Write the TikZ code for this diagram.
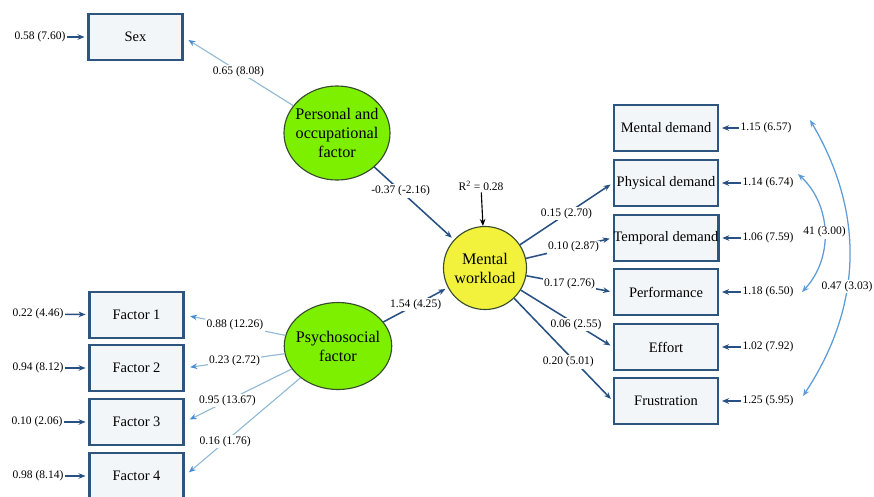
\documentclass[tikz,border=0pt]{standalone}
\usepackage{fontspec}
\setmainfont{Liberation Serif}
\usepackage{xcolor}
\usetikzlibrary{arrows.meta}
\usetikzlibrary{shapes.geometric}
\usetikzlibrary{positioning}

\definecolor{boxline}{RGB}{45,85,125}
\definecolor{boxfill}{RGB}{243,246,249}
\definecolor{dkblue}{RGB}{40,80,130}
\definecolor{ltblue}{RGB}{145,185,212}
\definecolor{tipblue}{RGB}{70,140,215}
\definecolor{covblue}{RGB}{95,155,215}
\definecolor{latgreen}{RGB}{125,240,0}
\definecolor{latyellow}{RGB}{242,242,60}
\definecolor{latline}{RGB}{55,75,45}

\tikzset{
  obs/.style={rectangle,draw=boxline,fill=boxfill,line width=1.6pt,inner sep=0pt,
    font=\fontsize{10.3}{12}\selectfont},
  lat/.style={ellipse,draw=latline,line width=0.8pt,inner xsep=-3pt,inner ysep=0pt,
    align=center,font=\fontsize{11.5}{13.5}\selectfont},
  lbl/.style={fill=white,inner sep=1pt,font=\fontsize{8.2}{9}\selectfont},
  errlbl/.style={inner sep=1pt,font=\fontsize{8.2}{9}\selectfont},
}

\begin{document}
\begin{tikzpicture}[x=0.025cm,y=-0.025cm]
        \useasboundingbox (0,0) rectangle (874,496);
        % observed variables
        \begin{scope}[every node/.style={obs,minimum width=2.35cm,minimum height=1.15cm}]
        \node (sex) at (135.5,37) {Sex};
        \node (f1) at (136.5,315) {Factor 1};
        \node (f2) at (136.5,368) {Factor 2};
        \node (f3) at (136.5,422) {Factor 3};
        \node (f4) at (136.5,476) {Factor 4};
        \end{scope}
        \begin{scope}[every node/.style={obs,minimum width=2.6cm,minimum height=1.15cm}]
        \node (md) at (666,128) {Mental demand};
        \node (pd) at (666,183) {Physical demand};
        \node (td) at (666,238) {Temporal demand};
        \node (pf) at (666,292) {Performance};
        \node (ef) at (666,347) {Effort};
        \node (fr) at (666,401) {Frustration};
        \end{scope}
        % latent variables
        \node[lat,fill=latgreen,minimum width=2.65cm,minimum height=2.35cm] (po) at (337,133)
          {Personal and\\occupational\\factor};
        \node[lat,fill=latgreen,minimum width=2.55cm,minimum height=2.175cm] (ps) at (338,346)
          {Psychosocial\\factor};
        \node[lat,fill=latyellow,minimum width=2.075cm,minimum height=2.075cm] (mw) at (485,268)
          {Mental\\workload};
        \node[errlbl] (r2) at (481,186) {R\textsuperscript{2} = 0.28};
        % error terms
        \begin{scope}[every node/.style={errlbl}]
        \node (es) at (40,37) {0.58 (7.60)};
        \node (e1) at (38,314) {0.22 (4.46)};
        \node (e2) at (38,368) {0.94 (8.12)};
        \node (e3) at (37,422) {0.10 (2.06)};
        \node (e4) at (38,476) {0.98 (8.14)};
        \node (emd) at (766,128) {1.15 (6.57)};
        \node (epd) at (768,183) {1.14 (6.74)};
        \node (etd) at (768,238) {1.06 (7.59)};
        \node (epf) at (768,292) {1.18 (6.50)};
        \node (eef) at (768,347) {1.02 (7.92)};
        \node (efr) at (768,401) {1.25 (5.95)};
        \end{scope}
        \coordinate (c1a) at (798,174);
        \coordinate (c1b) at (802,292);
        \coordinate (c2a) at (810,120);
        \coordinate (c2b) at (803,396);
        % loadings
        \begin{scope}[every edge/.style={draw=ltblue,line width=0.8pt,shorten >=4pt,
            -{Stealth[length=5pt,width=4pt,color=tipblue]}}]
        \path (po) edge node[lbl] {0.65 (8.08)} (sex.east);
        \path (ps) edge node[lbl] {0.88 (12.26)} (f1.east);
        \path (ps) edge node[lbl] {0.23 (2.72)} (f2.east);
        \path (ps) edge node[lbl,pos=0.6] {0.95 (13.67)} (f3.east);
        \path (ps) edge node[lbl,pos=0.65] {0.16 (1.76)} (f4.east);
        \end{scope}
        \begin{scope}[every edge/.style={draw=dkblue,line width=1.1pt,shorten >=2pt,
            -{Stealth[length=5pt,width=4pt]}}]
        \path (po) edge node[lbl,pos=0.33] {-0.37 (-2.16)} (mw);
        \path (ps) edge node[lbl] {1.54 (4.25)} (mw);
        \path (mw) edge node[lbl] {0.15 (2.70)} (pd.west);
        \path (mw) edge node[lbl,pos=0.55] {0.10 (2.87)} (td.west);
        \path (mw) edge node[lbl] {0.17 (2.76)} (pf.west);
        \path (mw) edge node[lbl,pos=0.6] {0.06 (2.55)} (ef.west);
        \path (mw) edge node[lbl,pos=0.62,xshift=-5pt] {0.20 (5.01)} (fr.west);
        \path (es) edge (sex);
        \path (e1) edge (f1);
        \path (e2) edge (f2);
        \path (e3) edge (f3);
        \path (e4) edge (f4);
        \path (emd) edge (md);
        \path (epd) edge (pd);
        \path (etd) edge (td);
        \path (epf) edge (pf);
        \path (eef) edge (ef);
        \path (efr) edge (fr);
        \end{scope}
        \draw[line width=0.8pt,-{Stealth[length=5pt,width=4pt]}] (r2) -- (mw);
        % covariances
        \begin{scope}[every edge/.style={draw=covblue,line width=0.9pt,
            {Stealth[length=5pt,width=4pt]}-{Stealth[length=5pt,width=4pt]}}]
        \path (c1a) edge[bend left=45] node[lbl] {41 (3.00)} (c1b);
        \path (c2a) edge[bend left=32] node[lbl,pos=0.6] {0.47 (3.03)} (c2b);
        \end{scope}
\end{tikzpicture}
\end{document}
